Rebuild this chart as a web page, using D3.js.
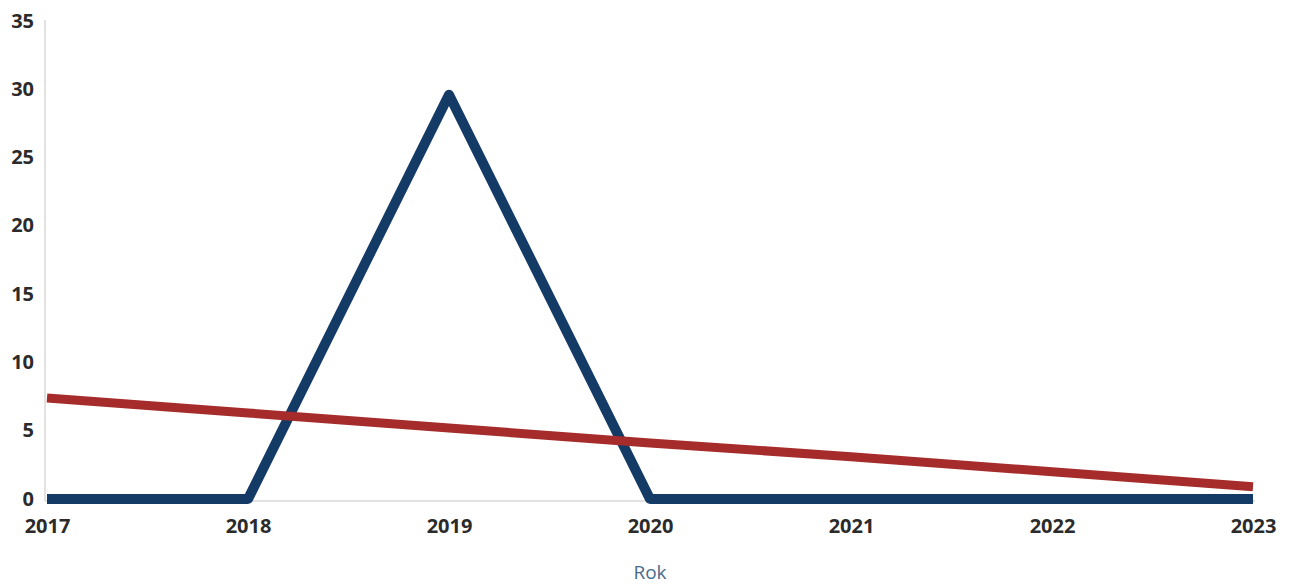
<!DOCTYPE html>
<html><head><meta charset="utf-8">
<script src="https://cdn.jsdelivr.net/npm/d3@7"></script>
<style>
html,body{margin:0;padding:0;background:#fff;}
svg{display:block;}
text{font-family:"Open Sans",sans-serif;}
</style></head>
<body>
<svg id="chart" width="1290" height="585"></svg>
<script>
const years = ["2017","2018","2019","2020","2021","2022","2023"];
const seriesValues = [0, 0, 29.6, 0, 0, 0, 0];
const trendValues = [7.4, 6.3, 5.2, 4.1, 3.1, 2.0, 0.9];
const yTicks = [0, 5, 10, 15, 20, 25, 30, 35];
const xTitle = "Rok";

const svg = d3.select("#chart");
const x = d3.scalePoint().domain(years).range([47, 1253]);
const y = d3.scaleLinear().domain([0, 35]).range([499, 21]);

// axis lines
svg.append("line").attr("x1", 45).attr("x2", 45).attr("y1", 20).attr("y2", 501)
  .attr("stroke", "#d9d9d9").attr("stroke-width", 1.5);
svg.append("line").attr("x1", 45).attr("x2", 1255).attr("y1", 501).attr("y2", 501)
  .attr("stroke", "#d9d9d9").attr("stroke-width", 1.5);

// y tick labels
const yAxis = d3.axisLeft(y).tickValues(yTicks).tickSize(0).tickPadding(0);
const gy = svg.append("g").attr("transform", "translate(34,0)").call(yAxis);
gy.select(".domain").remove();
gy.selectAll("text").attr("font-family", "'Open Sans',sans-serif").attr("font-size", 20)
  .attr("font-weight", 700).attr("fill", "#2b2b2b").attr("dy", "0.3em");

// x tick labels
const xAxis = d3.axisBottom(x).tickSize(0).tickPadding(0);
const gx = svg.append("g").attr("transform", "translate(0,526)").call(xAxis);
gx.select(".domain").remove();
gx.selectAll("text").attr("font-family", "'Open Sans',sans-serif").attr("font-size", 20)
  .attr("font-weight", 700).attr("fill", "#2b2b2b").attr("dy", "0.35em");

// x title
svg.append("text").attr("x", 650).attr("y", 572).attr("text-anchor", "middle")
  .attr("dy", "0.35em").attr("font-size", 19).attr("fill", "#4a6a8c").text(xTitle);

const line = d3.line().x((d, i) => x(years[i])).y(d => y(d));

svg.append("path").datum(seriesValues).attr("d", line)
  .attr("fill", "none").attr("stroke", "#143a66").attr("stroke-width", 10)
  .attr("stroke-linejoin", "round").attr("stroke-linecap", "butt");

svg.append("path").datum(trendValues).attr("d", line)
  .attr("fill", "none").attr("stroke", "#a62b2b").attr("stroke-width", 9)
  .attr("stroke-linecap", "butt");
</script>
</body></html>
